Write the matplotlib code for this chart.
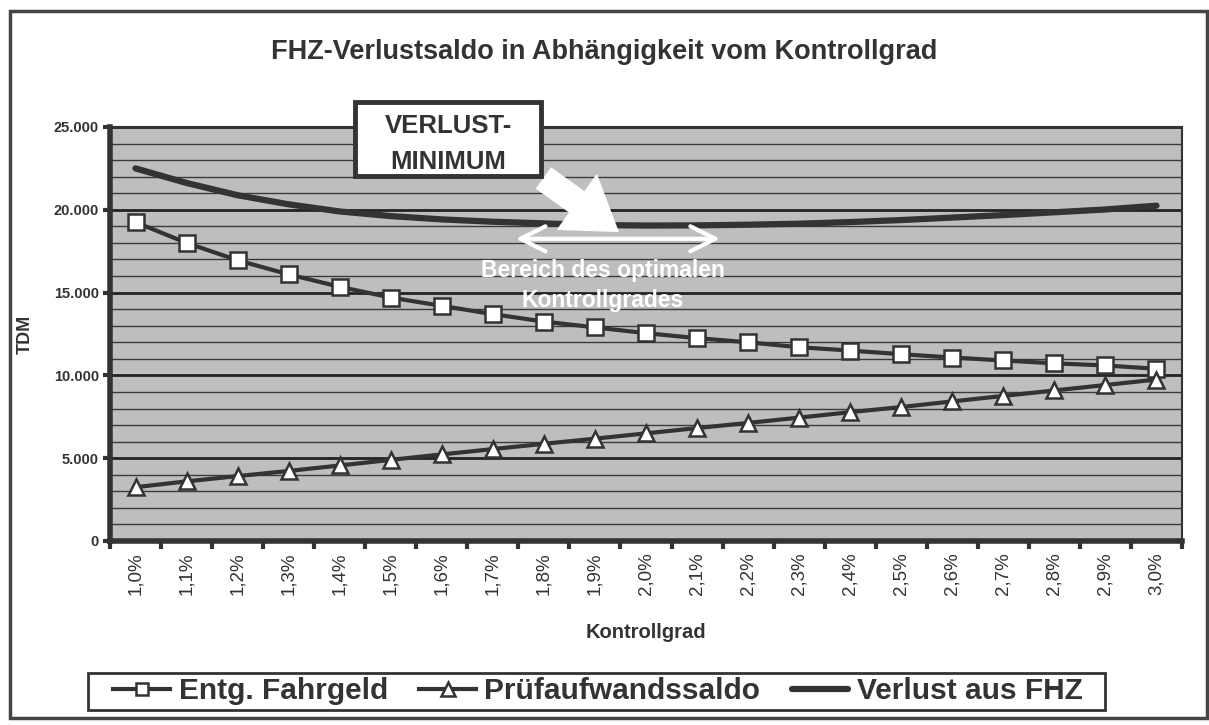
import matplotlib.pyplot as plt
import matplotlib.patches as mpatches
from matplotlib.ticker import FixedLocator, MultipleLocator

# values (TDM)
kontrollgrad = ["1,0%", "1,1%", "1,2%", "1,3%", "1,4%", "1,5%", "1,6%",
                "1,7%", "1,8%", "1,9%", "2,0%", "2,1%", "2,2%", "2,3%",
                "2,4%", "2,5%", "2,6%", "2,7%", "2,8%", "2,9%", "3,0%"]
entg_fahrgeld = [19250, 18000, 16950, 16100, 15350, 14700, 14200, 13700,
                 13250, 12900, 12550, 12250, 12000, 11700, 11500, 11280,
                 11080, 10900, 10730, 10600, 10400]
pruefaufwand = [3250, 3600, 3920, 4230, 4560, 4900, 5230, 5550, 5870,
                6180, 6500, 6820, 7130, 7450, 7780, 8090, 8430, 8760,
                9090, 9420, 9750]
verlust_fhz = [22500, 21620, 20880, 20330, 19900, 19620, 19420, 19280,
               19180, 19080, 19050, 19060, 19100, 19160, 19260, 19380,
               19530, 19680, 19850, 20020, 20250]

W, H = 1209, 725
DARK = "#333333"
FONT = ["Liberation Sans", "DejaVu Sans"]
plt.rcParams["font.family"] = FONT


def fx(px):
    return px / W


def fy(py):
    return 1 - py / H


fig = plt.figure(figsize=(W / 100, H / 100), dpi=100)
ax = fig.add_axes([fx(110), fy(541), fx(1182) - fx(110), fy(127) - fy(541)])
ax.set_facecolor("#bebebe")

x = list(range(len(kontrollgrad)))

ax.plot(x, verlust_fhz, color=DARK, lw=4.5, solid_capstyle="round",
        label="Verlust aus FHZ", zorder=3)
ax.plot(x, entg_fahrgeld, color=DARK, lw=3, marker="s", ms=11,
        mfc="white", mec=DARK, mew=1.8, label="Entg. Fahrgeld", zorder=4)
ax.plot(x, pruefaufwand, color=DARK, lw=3, marker="^", ms=12,
        mfc="white", mec=DARK, mew=1.8, label="Prüfaufwandssaldo", zorder=4)

ax.set_xlim(-0.5, len(x) - 0.5)
ax.set_ylim(0, 25000)

# category axis: ticks between categories, labels centred
ax.xaxis.set_major_locator(FixedLocator([i - 0.5 for i in range(len(x) + 1)]))
ax.xaxis.set_minor_locator(FixedLocator(x))
ax.set_xticklabels([], minor=False)
ax.set_xticklabels(kontrollgrad, minor=True, rotation=90, fontsize=13.5,
                   color=DARK)
ax.tick_params(axis="x", which="major", length=6, width=3, color=DARK,
               direction="out")
ax.tick_params(axis="x", which="minor", length=0, pad=8)

ax.yaxis.set_major_locator(MultipleLocator(5000))
ax.yaxis.set_minor_locator(MultipleLocator(1000))
ax.set_yticks(range(0, 25001, 5000))
ax.set_yticklabels([f"{v:,}".replace(",", ".") for v in range(0, 25001, 5000)],
                   fontsize=10.5, fontweight="bold", color=DARK)
ax.tick_params(axis="y", which="major", length=5, width=3, color=DARK,
               direction="out", pad=3)
ax.tick_params(axis="y", which="minor", length=0)

ax.grid(axis="y", which="minor", color="#3a3a3a", lw=1.0, zorder=1)
ax.grid(axis="y", which="major", color="#222222", lw=2.0, zorder=1)
ax.set_axisbelow(True)

for side in ["left", "bottom"]:
    ax.spines[side].set_linewidth(4)
    ax.spines[side].set_color(DARK)
for side in ["right", "top"]:
    ax.spines[side].set_linewidth(1.5)
    ax.spines[side].set_color(DARK)

ax.set_ylabel("TDM", fontsize=13, fontweight="bold", color=DARK)
ax.yaxis.set_label_coords((34 - 110) / 1072, 0.5)
ax.set_xlabel("Kontrollgrad", fontsize=14.5, fontweight="bold", color=DARK,
              labelpad=20)
fig.text(0.5, fy(52), "FHZ-Verlustsaldo in Abhängigkeit vom Kontrollgrad",
         ha="center", va="center", fontsize=19.5, fontweight="bold",
         color=DARK)

# VERLUST-MINIMUM box
box = mpatches.Rectangle((fx(355), fy(176)), fx(541) - fx(355),
                         fy(102) - fy(176), transform=fig.transFigure,
                         fc="white", ec=DARK, lw=3.5, zorder=10)
fig.patches.append(box)
fig.text(fx(448), fy(126), "VERLUST-", ha="center", va="center",
         fontsize=18.5, fontweight="bold", color=DARK, zorder=11)
fig.text(fx(448), fy(162), "MINIMUM", ha="center", va="center",
         fontsize=18.5, fontweight="bold", color=DARK, zorder=11)

# fat white arrow from box to the minimum
ax.annotate("", xy=(9.45, 18700), xytext=(8.0, 21900),
            arrowprops=dict(arrowstyle="simple,head_length=1.8,head_width=2.4,"
                                       "tail_width=0.9",
                            fc="white", ec="white", mutation_scale=20,
                            shrinkA=0, shrinkB=0), zorder=6)

# range of optimal control degree
ax.annotate("", xy=(11.45, 18250), xytext=(7.45, 18250),
            arrowprops=dict(arrowstyle="<->,head_length=1.5,head_width=0.75",
                            color="white", lw=3, mutation_scale=12,
                            shrinkA=0, shrinkB=0), zorder=6)
ax.text(9.15, 16350, "Bereich des optimalen", ha="center", va="center",
        fontsize=16.5, fontweight="bold", color="white", zorder=6)
ax.text(9.15, 14550, "Kontrollgrades", ha="center", va="center",
        fontsize=16.5, fontweight="bold", color="white", zorder=6)

# legend (frame drawn separately so it can be wider than the entries)
legend_box = mpatches.Rectangle((fx(88), fy(710)), fx(1105) - fx(88),
                                fy(673) - fy(710), transform=fig.transFigure,
                                fc="white", ec=DARK, lw=2)
fig.patches.append(legend_box)
handles, labels = ax.get_legend_handles_labels()
order = [1, 2, 0]
leg = fig.legend([handles[i] for i in order], [labels[i] for i in order],
                 loc="center", bbox_to_anchor=(fx(598), fy(691)), ncol=3,
                 frameon=False,
                 prop=dict(family=FONT, weight="bold", size=21.5),
                 handlelength=1.9, handletextpad=0.28, columnspacing=1.05,
                 borderpad=0.2, markerscale=0.8)
for t in leg.get_texts():
    t.set_color(DARK)

# outer frame
frame = mpatches.Rectangle((fx(10), fy(718)), fx(1207) - fx(10),
                           fy(11) - fy(718), transform=fig.transFigure,
                           fill=False, ec="#444444", lw=2.5)
fig.patches.append(frame)

fig.savefig("out.png", dpi=100)
